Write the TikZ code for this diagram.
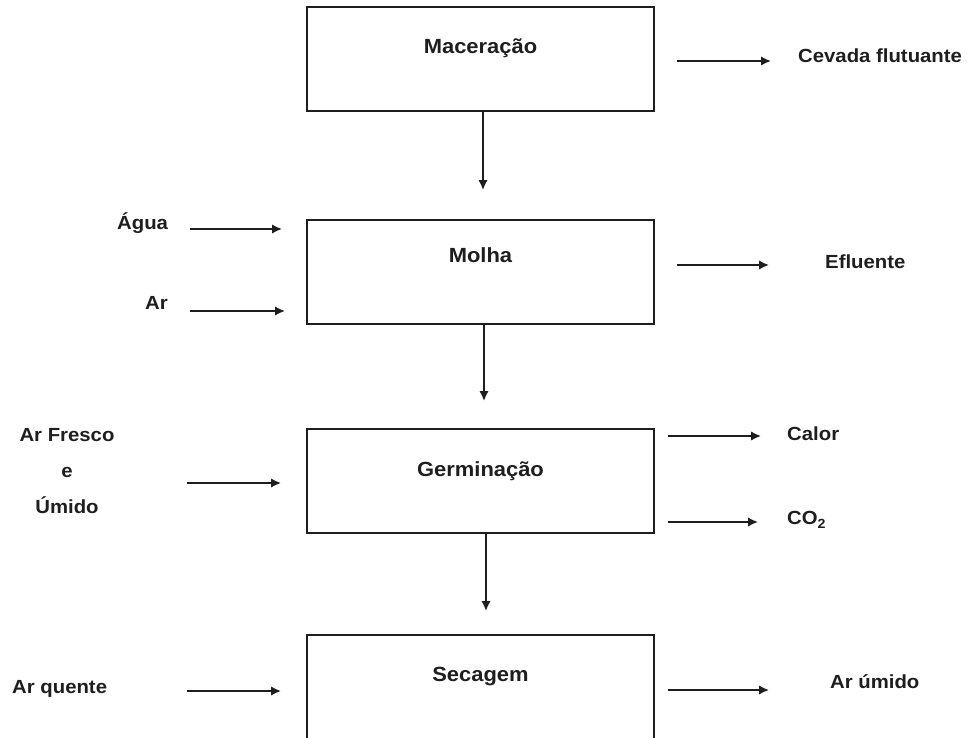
\documentclass[tikz,border=0pt]{standalone}
\usepackage{fontspec}
\setmainfont{Liberation Sans}[FakeStretch=1.07]
\usetikzlibrary{arrows.meta,positioning}
\definecolor{ink}{RGB}{30,30,30}

\begin{document}
\begin{tikzpicture}[x=1pt,y=-1pt,
  box/.style={draw=ink,line width=1.6pt,minimum width=347pt,minimum height=104pt,anchor=north,inner sep=0pt},
  lab/.style={text=ink,font=\fontsize{19}{22}\selectfont\bfseries,inner sep=0pt},
  ttl/.style={lab,font=\fontsize{20.5}{24}\selectfont\bfseries,below=33pt of #1.north},
  ar/.style={draw=ink,line width=1.9pt,-{Latex[length=10pt,width=9.5pt]}}]
\useasboundingbox (0,0) rectangle (967,737);
% process boxes
\node[box] (mac) at (480.5,6) {};
\node[box] (molha) at (480.5,219) {};
\node[box] (germ) at (480.5,428) {};
\node[box,minimum height=140pt] (sec) at (480.5,634) {};
\node[ttl=mac] (macT) {Maceração};
\node[ttl=molha,below=28pt of molha.north] (molhaT) {Molha};
\node[ttl=germ] (germT) {Germinação};
\node[ttl=sec] (secT) {Secagem};
% vertical flow
\coordinate (m1) at (483,190);
\coordinate (m2) at (484,401);
\coordinate (m3) at (486,611);
\draw[ar] (mac.south -| m1) -- (m1);
\draw[ar] (molha.south -| m2) -- (m2);
\draw[ar] (germ.south -| m3) -- (m3);
% outputs
\node[lab,anchor=west] (cevada) at (798,56) {Cevada flutuante};
\node[lab,anchor=west] (efluente) at (825,262) {Efluente};
\node[lab,anchor=west] (calor) at (787,434) {Calor};
\node[lab,anchor=west] (co2) at (787,520) {CO\textsubscript{2}};
\node[lab,anchor=west] (umido) at (830,682) {Ar úmido};
\coordinate (o1a) at (677,61);  \coordinate (o1b) at (771,61);
\coordinate (o2a) at (677,265); \coordinate (o2b) at (769,265);
\coordinate (o3a) at (668,436); \coordinate (o3b) at (761,436);
\coordinate (o4a) at (668,522); \coordinate (o4b) at (758,522);
\coordinate (o5a) at (668,690); \coordinate (o5b) at (769,690);
\draw[ar] (o1a) -- (o1b); \draw[ar] (o2a) -- (o2b);
\draw[ar] (o3a) -- (o3b); \draw[ar] (o4a) -- (o4b);
\draw[ar] (o5a) -- (o5b);
% inputs
\node[lab,anchor=west] (agua) at (117,223) {Água};
\node[lab,anchor=west] (ar) at (145,303) {Ar};
\node[lab,align=center] (fresco) at (67,471) {Ar Fresco\\[14pt]e\\[14pt]Úmido};
\node[lab,anchor=west] (quente) at (12,689) {Ar quente};
\coordinate (i1a) at (190,229); \coordinate (i1b) at (282,229);
\coordinate (i2a) at (190,311); \coordinate (i2b) at (285,311);
\coordinate (i3a) at (187,483); \coordinate (i3b) at (281,483);
\coordinate (i4a) at (187,691); \coordinate (i4b) at (281,691);
\draw[ar] (i1a) -- (i1b); \draw[ar] (i2a) -- (i2b);
\draw[ar] (i3a) -- (i3b); \draw[ar] (i4a) -- (i4b);
\end{tikzpicture}
\end{document}
